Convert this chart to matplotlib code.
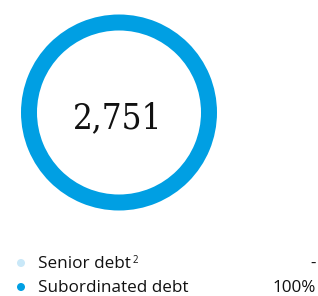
import matplotlib
matplotlib.use("Agg")
import matplotlib.pyplot as plt

categories = ["Senior debt", "Subordinated debt"]
shares = [0, 100]
share_labels = ["-", "100%"]
total_label = "2,751"
colors = ["#c9e8f8", "#009fe3"]

W, H = 318, 296
fig = plt.figure(figsize=(W / 100, H / 100), dpi=100)
cx, cy, R = 119, 112.5, 98
ax = fig.add_axes([(cx - R) / W, (H - cy - R) / H, 2 * R / W, 2 * R / H])
ax.pie(shares, colors=colors, radius=1.0, startangle=90, counterclock=False,
       wedgeprops=dict(width=16 / 98, linewidth=0))
ax.set_xlim(-1, 1)
ax.set_ylim(-1, 1)
ax.set_aspect("equal")
ax.axis("off")
fig.text(118 / W, 1 - 128 / H, total_label, ha="center", va="baseline", fontsize=25,
         family="DejaVu Serif", fontstretch="condensed", color="#111111")

rows_y = [268, 292]
for i, (cat, lab, col) in enumerate(zip(categories, share_labels, colors)):
    y = 1 - rows_y[i] / H
    fig.patches.append(matplotlib.patches.Ellipse((21 / W, y + 5 / H), 8 / W, 8 / H,
                       transform=fig.transFigure, color=col, lw=0))
    fig.text(38 / W, y, cat, ha="left", va="baseline", fontsize=12.3,
             family="Open Sans", color="#111111")
    if i == 0:
        fig.text(133 / W, y + 5 / H, "2", ha="left", va="baseline", fontsize=7,
                 family="Open Sans", color="#111111")
    fig.text(316 / W, y, lab, ha="right", va="baseline", fontsize=12.3,
             family="Open Sans", color="#111111")

fig.savefig("out.png", dpi=100)
